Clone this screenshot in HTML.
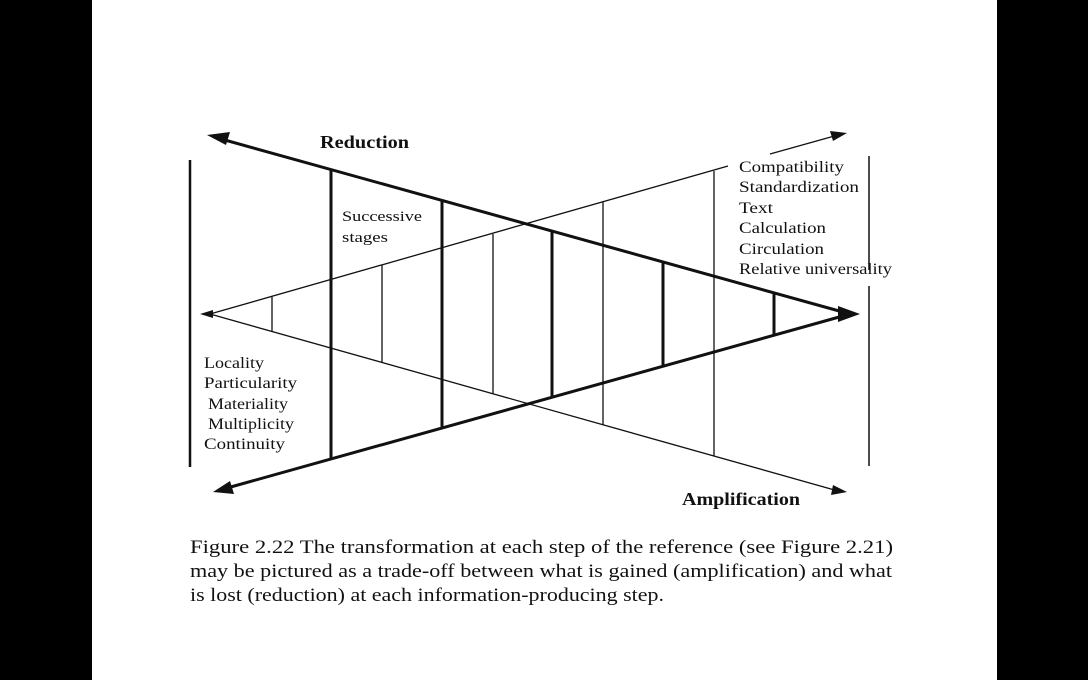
<!DOCTYPE html>
<html><head><meta charset="utf-8"><style>
body{margin:0;background:#000;}
svg{display:block}
text{font-family:"Liberation Serif",serif;fill:#111}
</style></head><body>
<svg width="1088" height="680" viewBox="0 0 1088 680" xmlns="http://www.w3.org/2000/svg">
<rect x="0" y="0" width="1088" height="680" fill="#000"/>
<rect x="92" y="0" width="905" height="680" fill="#fff"/>
<g stroke="#111" fill="none">
<line x1="214" y1="137" x2="850" y2="314" stroke-width="3"/>
<line x1="220" y1="490" x2="850" y2="314" stroke-width="3"/>
<line x1="210" y1="314" x2="728" y2="166" stroke-width="1.3"/>
<line x1="770" y1="154" x2="838" y2="135" stroke-width="1.3"/>
<line x1="210" y1="314" x2="838" y2="491" stroke-width="1.3"/>
<line x1="190" y1="160" x2="190" y2="467" stroke-width="2.5"/>
<line x1="869" y1="156" x2="869" y2="466" stroke-width="1.5"/>
<line x1="331" y1="170" x2="331" y2="459" stroke-width="3"/>
<line x1="442" y1="200" x2="442" y2="428" stroke-width="3"/>
<line x1="552" y1="231" x2="552" y2="397" stroke-width="3"/>
<line x1="663" y1="262" x2="663" y2="366" stroke-width="3"/>
<line x1="774" y1="294" x2="774" y2="334" stroke-width="3"/>
<line x1="272" y1="297" x2="272" y2="331" stroke-width="1.3"/>
<line x1="382" y1="265" x2="382" y2="363" stroke-width="1.3"/>
<line x1="493" y1="234" x2="493" y2="394" stroke-width="1.3"/>
<line x1="603" y1="202" x2="603" y2="425" stroke-width="1.3"/>
<line x1="714" y1="171" x2="714" y2="456" stroke-width="1.3"/>
</g>
<rect x="866" y="270" width="8" height="16" fill="#fff"/>
<g fill="#111">
<polygon points="207,135 230,132 226,145"/>
<polygon points="213,492 230,481 234,494"/>
<polygon points="860,314 838,306 838,322"/>
<polygon points="200,314 213,310 213,318"/>
<polygon points="847,133 830,131 833,141"/>
<polygon points="847,492 833,485 831,495"/>
</g>
<text x="320" y="148" font-size="18" font-weight="bold" textLength="89" lengthAdjust="spacingAndGlyphs">Reduction</text>
<text x="682" y="505" font-size="18" font-weight="bold" textLength="118" lengthAdjust="spacingAndGlyphs">Amplification</text>
<text x="342" y="221" font-size="15" textLength="80" lengthAdjust="spacingAndGlyphs">Successive</text>
<text x="342" y="242" font-size="15" textLength="46" lengthAdjust="spacingAndGlyphs">stages</text>
<g font-size="16" lengthAdjust="spacingAndGlyphs">
<text x="739" y="172" textLength="105" lengthAdjust="spacingAndGlyphs">Compatibility</text>
<text x="739" y="192" textLength="120" lengthAdjust="spacingAndGlyphs">Standardization</text>
<text x="739" y="213" textLength="34" lengthAdjust="spacingAndGlyphs">Text</text>
<text x="739" y="233" textLength="87" lengthAdjust="spacingAndGlyphs">Calculation</text>
<text x="739" y="254" textLength="85" lengthAdjust="spacingAndGlyphs">Circulation</text>
<text x="739" y="274" textLength="153" lengthAdjust="spacingAndGlyphs">Relative universality</text>
</g>
<g font-size="16">
<text x="204" y="368" textLength="60" lengthAdjust="spacingAndGlyphs">Locality</text>
<text x="204" y="388" textLength="93" lengthAdjust="spacingAndGlyphs">Particularity</text>
<text x="208" y="409" textLength="80" lengthAdjust="spacingAndGlyphs">Materiality</text>
<text x="208" y="429" textLength="86" lengthAdjust="spacingAndGlyphs">Multiplicity</text>
<text x="204" y="449" textLength="81" lengthAdjust="spacingAndGlyphs">Continuity</text>
</g>
<g font-size="19">
<text x="190" y="553" textLength="703" lengthAdjust="spacingAndGlyphs">Figure 2.22  The transformation at each step of the reference (see Figure 2.21)</text>
<text x="190" y="577" textLength="702" lengthAdjust="spacingAndGlyphs">may be pictured as a trade-off between what is gained (amplification) and what</text>
<text x="190" y="601" textLength="474" lengthAdjust="spacingAndGlyphs">is lost (reduction) at each information-producing step.</text>
</g>
</svg>
</body></html>
